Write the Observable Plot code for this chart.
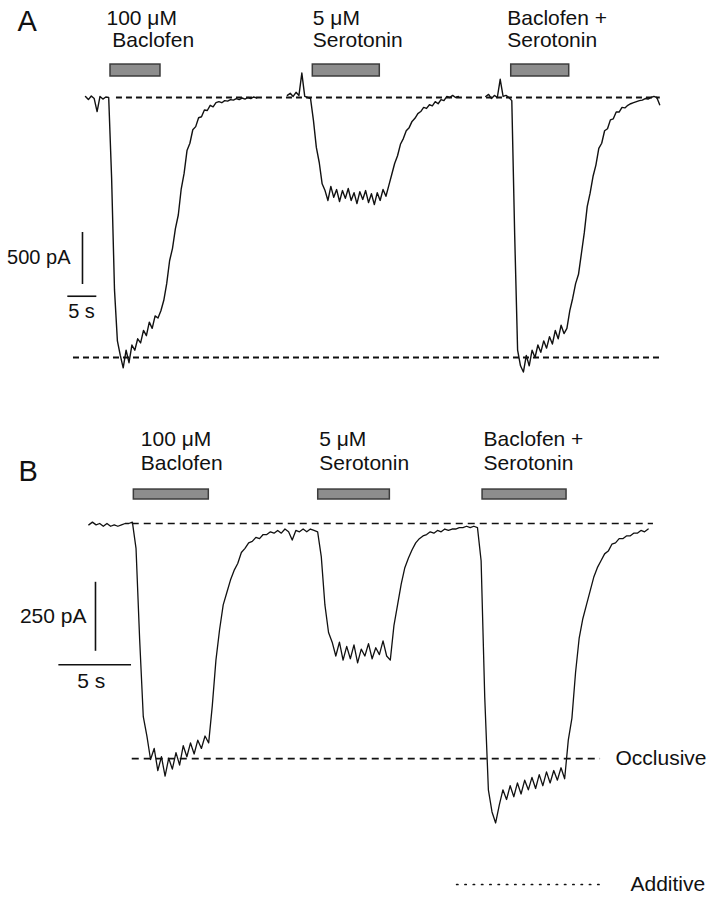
<!DOCTYPE html>
<html>
<head>
<meta charset="utf-8">
<script src="https://cdn.jsdelivr.net/npm/d3@7"></script>
<script src="https://cdn.jsdelivr.net/npm/@observablehq/plot@0.6"></script>
<style>
  html, body { margin: 0; padding: 0; background: #fff; }
  svg { display: block; }
</style>
</head>
<body>
<div id="chart"></div>
<script>
// ---------------- DATA ----------------
// Panel A: three separate recordings, sampled every 0.5 s (current in pA)
const dtA = 0.5;
const recStartA = [0, 34.8, 69.0];          // s, start of each recording on the figure's time axis
const baclofenA = [10, -20, 15, -10, -135, 10, -15, 5, 0, -770, -1850, -2340, -2480, -2600, -2430, -2550, -2380, -2430, -2320, -2360, -2240, -2290, -2160, -2220, -2100, -2120, -2050, -1950, -1790, -1570, -1450, -1260, -1130, -880, -730, -510, -440, -310, -280, -195, -185, -120, -125, -75, -90, -50, -40, -50, -30, -35, -20, -25, -10, -20, -5, -15, 0, -10, 5, -5];
const serotoninA = [20, 40, 10, 50, 20, 235, 10, 0, -10, -220, -480, -625, -830, -895, -990, -855, -960, -885, -1000, -895, -970, -875, -990, -915, -1020, -905, -980, -895, -1010, -925, -1030, -915, -990, -885, -950, -845, -740, -635, -560, -450, -395, -320, -290, -230, -200, -155, -135, -95, -105, -70, -80, -40, -60, -20, -30, 10, 0, 20, 0, 10];
const comboA = [10, 30, -10, 20, 0, 175, 10, 20, 0, -30, -1330, -2430, -2580, -2640, -2480, -2580, -2430, -2500, -2380, -2450, -2340, -2410, -2300, -2370, -2240, -2320, -2190, -2270, -2220, -2050, -1930, -1790, -1700, -1500, -1300, -1050, -920, -760, -650, -490, -440, -320, -300, -215, -205, -140, -140, -95, -100, -75, -60, -50, -40, -30, -25, -10, -15, 0, 10, 0, -70];
const drugLabelsA = ["100 μM\n\u00a0Baclofen", "5 μM\nSerotonin", "Baclofen +\nSerotonin"];
const drugOnA  = [4.31, 39.19, 73.40];      // s
const drugOffA = [12.93, 50.74, 83.40];     // s
const levelsA = [0, -2500];                 // pA: baseline, baclofen peak
const scaleA = [500, 5];                    // pA, s

// Panel B: one continuous recording, sampled every 0.25 s (current in pA)
const dtB = 0.25;
const baclofenB = [-5, 5, -5, 0, -10, 0, -10, -5, -10, -5, 0, 0, 5, -90, -420, -700, -770, -855, -815, -895, -845, -915, -850, -890, -830, -875, -805, -845, -795, -835, -785, -815, -770, -795, -660, -495, -385, -295, -250, -205, -170, -145, -105, -90, -70, -65, -50, -55, -40, -40, -30, -35, -25, -35, -20, -30, -60, -25, -30, -20, -30, -20, -25];
const serotoninB = [-30, -120, -295, -395, -430, -480, -430, -495, -445, -490, -440, -505, -455, -480, -435, -490, -450, -475, -425, -480, -495, -370, -295, -220, -160, -125, -95, -70, -55, -45, -40, -30, -35, -25, -30, -20, -25, -20, -20, -15, -15, -10, -15, -10, -15];
const comboB = [-135, -630, -965, -1045, -1085, -1020, -965, -1000, -950, -990, -940, -980, -930, -965, -920, -960, -910, -950, -900, -940, -895, -930, -885, -925, -785, -705, -540, -415, -345, -295, -245, -195, -160, -135, -110, -100, -75, -70, -55, -55, -45, -45, -35, -35, -25, -30, -20];
const drugLabelsB = ["100 μM\nBaclofen", "5 μM\nSerotonin", "Baclofen +\nSerotonin"];
const drugOnB  = [3.10, 15.79, 27.10];      // s
const drugOffB = [8.26, 20.72, 32.88];      // s
const levelsB = [0, -852, -1308];           // pA: baseline, occlusive, additive
const levelNamesB = ["", "Occlusive", "Additive"];
const scaleB = [250, 5];                    // pA, s

// ---------------- BUILD ----------------
const font = "'Liberation Sans', Arial, Helvetica, sans-serif";
function series(values, t0, dt, id) {
  return values.map((v, i) => ({t: t0 + i * dt, pA: v, id}));
}
const traceA = [
  ...series(baclofenA, recStartA[0], dtA, "bac"),
  ...series(serotoninA, recStartA[1], dtA, "ser"),
  ...series(comboA, recStartA[2], dtA, "combo")
];
const allB = [...baclofenB, ...serotoninB, ...comboB];
const traceB = series(allB, 0, dtB, "B");

const drugsA = drugLabelsA.map((label, i) => ({label, on: drugOnA[i], off: drugOffA[i]}));
const drugsB = drugLabelsB.map((label, i) => ({label, on: drugOnB[i], off: drugOffB[i]}));

const ink = "#111";
const barFill = "#8d8d8d", barStroke = "#3c3c3c";

// ---- Panel A ----
const plotA = Plot.plot({
  width: 711, height: 395,
  marginTop: 0, marginRight: 0, marginBottom: 0, marginLeft: 0,
  x: {domain: [-14.655, 107.93], axis: null},
  y: {domain: [-2865.4, 932.7], axis: null},
  style: {fontFamily: font, background: "#fff", color: ink},
  marks: [
    Plot.ruleY([{y: levelsA[0], x1: 5.34, x2: 99.1}], {y: "y", x1: "x1", x2: "x2", stroke: ink, strokeWidth: 1.8, strokeDasharray: "6,4"}),
    Plot.ruleY([{y: levelsA[1], x1: -2.07, x2: 99.1}], {y: "y", x1: "x1", x2: "x2", stroke: ink, strokeWidth: 1.8, strokeDasharray: "6,4"}),
    Plot.rect(drugsA, {x1: "on", x2: "off", y1: 202, y2: 317, fill: barFill, stroke: barStroke, strokeWidth: 1.5}),
    ...drugsA.map((d, i) => Plot.text([d], {x: "on", y: 856, text: "label", textAnchor: "start", lineAnchor: "top", lineHeight: 1.08, fontSize: 21, fill: ink, dx: [-4, 0, -4][i]})),
    Plot.line(traceA, {x: "t", y: "pA", z: "id", stroke: ink, strokeWidth: 1.4, strokeLinejoin: "round"}),
    // scale bars
    Plot.ruleX([{x: -0.52, y1: -1298, y2: -1298 - scaleA[0]}], {x: "x", y1: "y1", y2: "y2", stroke: ink, strokeWidth: 1.6}),
    Plot.ruleY([{y: -1911, x1: -3.05, x2: -3.05 + scaleA[1]}], {y: "y", x1: "x1", x2: "x2", stroke: ink, strokeWidth: 1.6}),
    Plot.text([`${scaleA[0]} pA`], {x: -2.59, y: -1543, text: d => d, textAnchor: "end", fontSize: 20, fill: ink}),
    Plot.text([`${scaleA[1]} s`], {x: -0.69, y: -2060, text: d => d, textAnchor: "middle", fontSize: 20, fill: ink}),
    Plot.text(["A"], {x: -11.72, y: 836.5, text: d => d, textAnchor: "start", lineAnchor: "top", fontSize: 29, fill: ink})
  ]
});

// ---- Panel B ----
const plotB = Plot.plot({
  width: 711, height: 505,
  marginTop: 0, marginRight: 0, marginBottom: 0, marginLeft: 0,
  x: {domain: [-6.077, 42.856], axis: null},
  y: {domain: [-1365.9, 463.77], axis: null},
  style: {fontFamily: font, background: "#fff", color: ink},
  marks: [
    Plot.ruleY([{y: levelsB[0], x1: 2.99, x2: 38.86}], {y: "y", x1: "x1", x2: "x2", stroke: ink, strokeWidth: 1.7, strokeDasharray: "7,5"}),
    Plot.ruleY([{y: levelsB[1], x1: 2.99, x2: 35.22}], {y: "y", x1: "x1", x2: "x2", stroke: ink, strokeWidth: 1.7, strokeDasharray: "7,5"}),
    Plot.ruleY([{y: levelsB[2], x1: 25.35, x2: 35.44}], {y: "y", x1: "x1", x2: "x2", stroke: ink, strokeWidth: 1.7, strokeDasharray: "1.3,7", strokeLinecap: "round"}),
    Plot.text([{name: levelNamesB[1], y: levelsB[1]}], {x: 36.25, y: "y", text: "name", textAnchor: "start", fontSize: 21, fill: ink}),
    Plot.text([{name: levelNamesB[2], y: levelsB[2]}], {x: 37.28, y: "y", text: "name", textAnchor: "start", fontSize: 21, fill: ink}),
    Plot.rect(drugsB, {x1: "on", x2: "off", y1: 87, y2: 123, fill: barFill, stroke: barStroke, strokeWidth: 1.5}),
    ...drugsB.map((d, i) => Plot.text([d], {x: "on", y: 343, text: "label", textAnchor: "start", lineAnchor: "top", lineHeight: 1.16, fontSize: 21, fill: ink, dx: [7, 1, 1][i]})),
    Plot.line(traceB, {x: "t", y: "pA", stroke: ink, strokeWidth: 1.3, strokeLinejoin: "round"}),
    // scale bars
    Plot.ruleX([{x: 0.46, y1: -213, y2: -213 - scaleB[0]}], {x: "x", y1: "y1", y2: "y2", stroke: ink, strokeWidth: 1.6}),
    Plot.ruleY([{y: -512, x1: -2.06, x2: -2.06 + scaleB[1]}], {y: "y", x1: "x1", x2: "x2", stroke: ink, strokeWidth: 1.6}),
    Plot.text([`${scaleB[0]} pA`], {x: -0.16, y: -337, text: d => d, textAnchor: "end", fontSize: 21, fill: ink}),
    Plot.text([`${scaleB[1]} s`], {x: 0.17, y: -572, text: d => d, textAnchor: "middle", fontSize: 21, fill: ink}),
    Plot.text(["B"], {x: -4.838, y: 228, text: d => d, textAnchor: "start", lineAnchor: "top", fontSize: 29, fill: ink})
  ]
});

const chart = document.getElementById("chart");
chart.appendChild(plotA);
chart.appendChild(plotB);
</script>
</body>
</html>
